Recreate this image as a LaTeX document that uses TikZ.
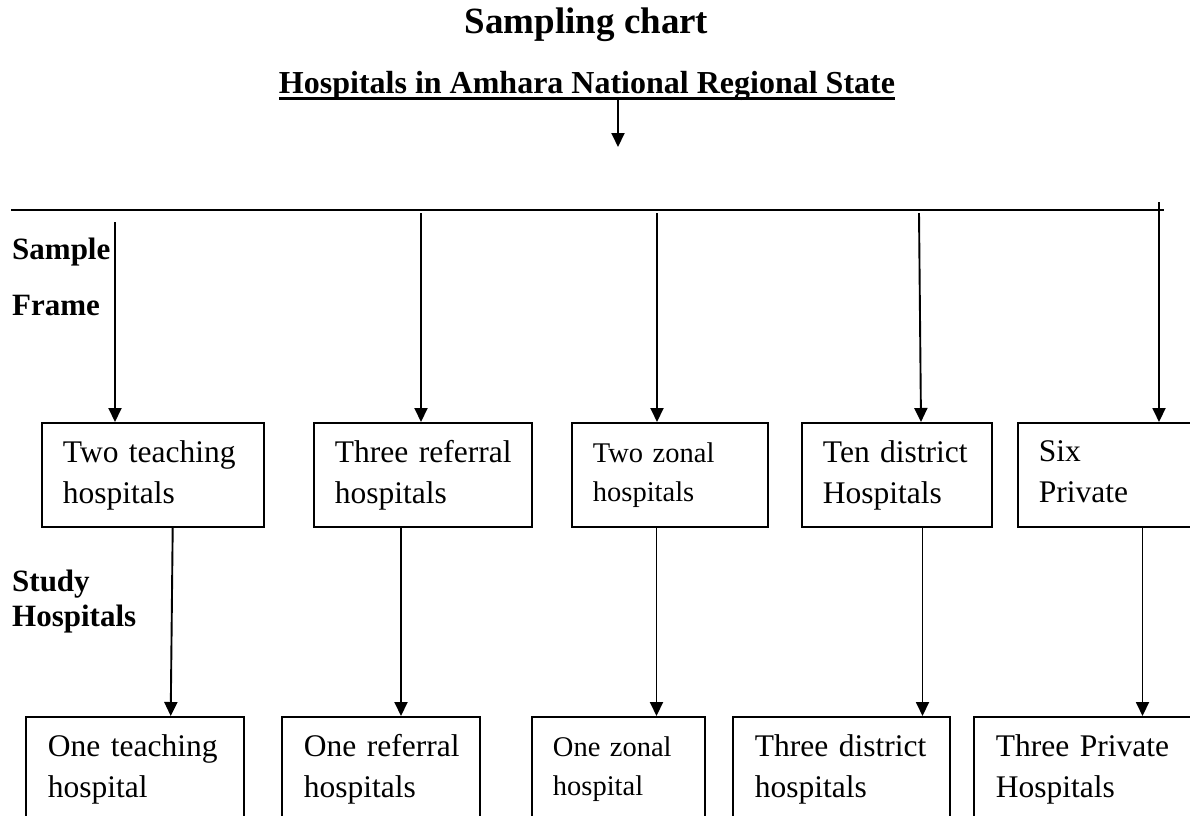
\documentclass[tikz,border=0pt]{standalone}
\usepackage{fontspec}
\setmainfont{Liberation Serif}
\usetikzlibrary{arrows.meta}
\tikzset{
  box/.style={draw, line width=1.9pt, inner ysep=0pt, anchor=north west, align=left, minimum height=104pt},
  arr/.style={line width=1.9pt, -{Triangle[length=14pt,width=13pt]}},
  bigtxt/.style={font=\fontsize{31.5}{41}\selectfont},
  smtxt/.style={font=\fontsize{28.5}{39}\selectfont},
  lbl/.style={font=\bfseries\fontsize{31}{35}\selectfont, anchor=base west, inner sep=0pt},
}
\begin{document}
\begin{tikzpicture}[x=1pt,y=-1pt]
\useasboundingbox (0,0) rectangle (1190,815);
\fill[white] (0,0) rectangle (1190,815);

% titles
\node[font=\bfseries\fontsize{37}{40}\selectfont, anchor=base, inner sep=0pt] (title) at (586.5,33) {Sampling chart};
\node[font=\bfseries\fontsize{32}{36}\selectfont, anchor=base, inner sep=0pt] (sub) at (587,93) {Hospitals in Amhara National Regional State};
\draw[line width=3pt] ([yshift=-5pt]sub.base west) -- ([yshift=-5pt]sub.base east);
\coordinate (ul) at ([yshift=-6.5pt]sub.base);
\coordinate (a1) at (618,147);
\draw[arr] (ul -| a1) -- (a1);

% horizontal line
\coordinate (hl) at (11,210);
\coordinate (hr) at (1164,210);
\draw[line width=1.5pt] (hl) -- (hr);

% side labels
\node[lbl] (sample) at (12,259) {Sample};
\node[lbl] (frame) at (12,315) {Frame};
\node[lbl] (study) at (12,591) {Study};
\node[lbl] (hosp) at (12,626) {Hospitals};

% top boxes
\node[box, bigtxt, inner xsep=21pt, text width=180pt] (T1) at (41,422) {\mbox{Two teaching}\\\mbox{hospitals}};
\node[box, bigtxt, inner xsep=21pt, text width=176pt] (T2) at (313,422) {\mbox{Three referral}\\\mbox{hospitals}};
\node[box, smtxt, inner xsep=21pt, text width=154pt] (T3) at (571,422) {\mbox{Two zonal}\\\mbox{hospitals}};
\node[box, bigtxt, inner xsep=21pt, text width=148pt] (T4) at (801,422) {\mbox{Ten district}\\\mbox{Hospitals}};
\node[box, bigtxt, inner xsep=21pt, text width=141pt] (T5) at (1017,422) {\mbox{Six}\\\mbox{Private\vphantom{p}}};

% bottom boxes
\node[box, bigtxt, inner xsep=22pt, text width=174pt] (B1) at (25,716) {\mbox{One teaching}\\\mbox{hospital}};
\node[box, bigtxt, inner xsep=22pt, text width=154pt] (B2) at (281,716) {\mbox{One referral}\\\mbox{hospitals}};
\node[box, smtxt, inner xsep=21pt, text width=131pt] (B3) at (531,716) {\mbox{One zonal}\\\mbox{hospital}};
\node[box, bigtxt, inner xsep=22pt, text width=173pt] (B4) at (732,716) {\mbox{Three district}\\\mbox{hospitals}};
\node[box, bigtxt, inner xsep=22pt, text width=183pt] (B5) at (973,716) {\mbox{Three Private}\\\mbox{Hospitals}};

% arrows from line to top boxes
\coordinate (s1) at (115,222);
\coordinate (s2) at (421,213);
\coordinate (s3) at (657,213);
\coordinate (s4) at (919,213);
\coordinate (e4) at (921,0);
\coordinate (s5) at (1159,202);
\draw[arr] (s1) -- (s1 |- T1.north);
\draw[arr] (s2) -- (s2 |- T2.north);
\draw[arr] (s3) -- (s3 |- T3.north);
\draw[arr] (s4) -- (e4 |- T4.north);
\draw[arr] (s5) -- (s5 |- T5.north);

% arrows from top boxes to bottom boxes
\coordinate (m1a) at (172.7,0);
\coordinate (m1b) at (170.7,0);
\coordinate (m2) at (401,0);
\coordinate (m3) at (656.5,0);
\coordinate (m4) at (922.5,0);
\coordinate (m5) at (1142.5,0);
\draw[arr] (T1.south -| m1a) -- (B1.north -| m1b);
\draw[arr] (T2.south -| m2) -- (B2.north -| m2);
\draw[arr] (T3.south -| m3) -- (B3.north -| m3);
\draw[arr] (T4.south -| m4) -- (B4.north -| m4);
\draw[arr] (T5.south -| m5) -- (B5.north -| m5);
\end{tikzpicture}
\end{document}
